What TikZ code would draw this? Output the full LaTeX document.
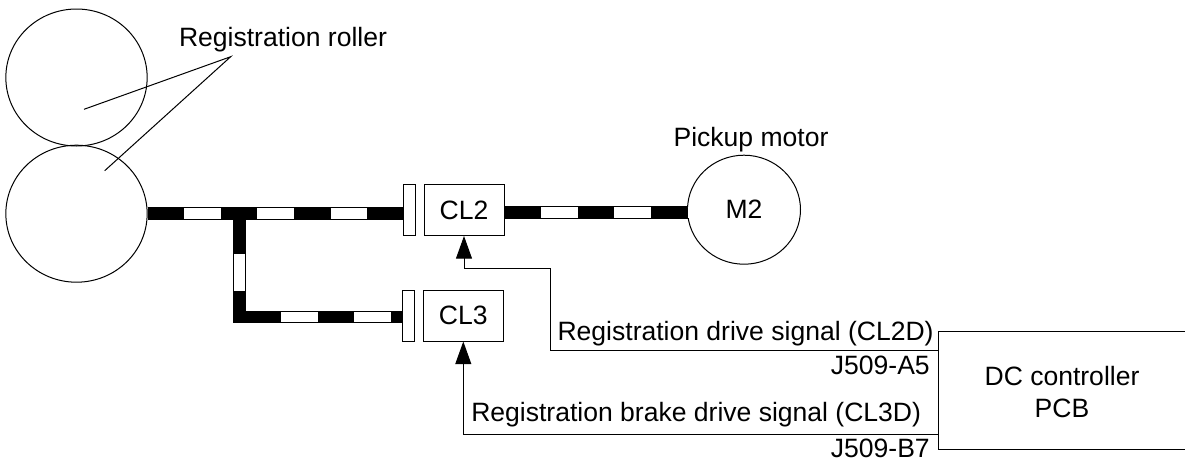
\documentclass[tikz,border=0pt]{standalone}
\usepackage{fontspec}
\setmainfont{Liberation Sans}
\usetikzlibrary{arrows.meta, positioning, calc, shapes.geometric}
\tikzset{
    % Label text
    every node/.style={font=\fontsize{19.9pt}{23.8pt}\selectfont, inner sep=0pt},
    % Rollers
    roller/.style={
        ellipse,
        draw=black,
        line width=0.75pt,
        minimum width=106pt,
        minimum height=102.75pt
    },
    % Motor
    motor/.style={
        ellipse,
        draw=black,
        line width=0.75pt,
        minimum width=84.75pt,
        minimum height=81.75pt
    },
    % Clutch box
    clutch/.style={
        rectangle,
        draw=black,
        line width=0.75pt,
        minimum width=60pt,
        minimum height=38.25pt
    },
    % Clutch plate
    plate/.style={
        rectangle,
        draw=black,
        fill=white,
        line width=0.75pt,
        minimum width=9pt,
        minimum height=38.25pt
    },
    % Drive shaft, black and white bands
    shaft/.style={
        line width=9.6pt,
        draw=black,
        postaction={draw=white, line width=8pt, dash pattern=on 27.45pt off 27.45pt, dash phase=27.45pt}
    },
    % Signal line
    signal/.style={
        line width=0.75pt,
        -{Triangle[length=17pt,width=12pt]}
    },
    % Thin outline
    leader/.style={line width=0.75pt}
}
\begin{document}
\begin{tikzpicture}[x=0.75pt, y=-0.75pt]
    \useasboundingbox (0,0) rectangle (1185,465);

    % Rollers and motor
    \node (rollerA) [roller] at (76.5,77.5) {};
    \node (rollerB) [roller] at (76.5,213.7) {};
    \node (rollerlabel) [anchor=base] at (283,46.7) {Registration roller};
    \coordinate (apex) at (230.7,56.7);
    \coordinate (endA) at (84,109.3);
    \coordinate (endB) at (104.7,170.7);
    \draw [leader] (endA) -- (apex) -- (endB);
    \node (motor) [motor] at (744,209.7) {M2};
    \node (motorlabel) [anchor=base] at (751,146.7) {Pickup motor};

    % Clutches
    \node (plateA) [plate] at (409.3,210) {};
    \node (clA) [clutch] at (464,210) {CL2\hspace{6.5pt}};
    \node (plateB) [plate] at (408.5,315.5) {};
    \node (clB) [clutch] at (463.3,315.5) {CL3\hspace{6pt}};

    % Shafts
    \coordinate (branchtop) at (239.5,217.4);
    \coordinate (branchend) at (239.5,323.3);
    \coordinate (branchstart) at (244.4,317);
    \coordinate (motorshaft) at (688,212.5);
    \draw [shaft] (rollerB.east) -- (plateA.west |- rollerB);
    \draw [shaft] (clA.east |- motorshaft) -- (motorshaft);
    \draw [shaft] (branchtop) -- (branchend);
    \draw [shaft] (branchstart) -- (plateB.west |- branchstart);

    % DC controller
    \coordinate (pcbTL) at (938.3,331);
    \coordinate (pcbBL) at (938.3,449.3);
    \coordinate (pcbTR) at (1185,331);
    \coordinate (pcbBR) at (1185,449.3);
    \draw [leader] (pcbTR) -- (pcbTL) -- (pcbBL) -- (pcbBR);
    \node (pcb) [align=center] at (1062,392) {DC controller\\PCB};

    % Signals
    \coordinate (sigA) at (938.3,350.5);
    \coordinate (sigB) at (938.3,434);
    \draw [signal] (sigA) -- (550,350.5) -- (550,268) -- (clA.south |- 0,268) -- (clA.south);
    \draw [signal] (sigB) -- (clB.south |- sigB) -- (clB.south);
    \node (sigAtext) [anchor=base west] at (557.3,340.7) {Registration drive signal (CL2D)};
    \node (sigBtext) [anchor=base west] at (471,421.7) {Registration brake drive signal (CL3D)};
    \node (pinA) [anchor=base east] at (930,374) {J509-A5};
    \node (pinB) [anchor=base east] at (930,457.7) {J509-B7};
\end{tikzpicture}
\end{document}
